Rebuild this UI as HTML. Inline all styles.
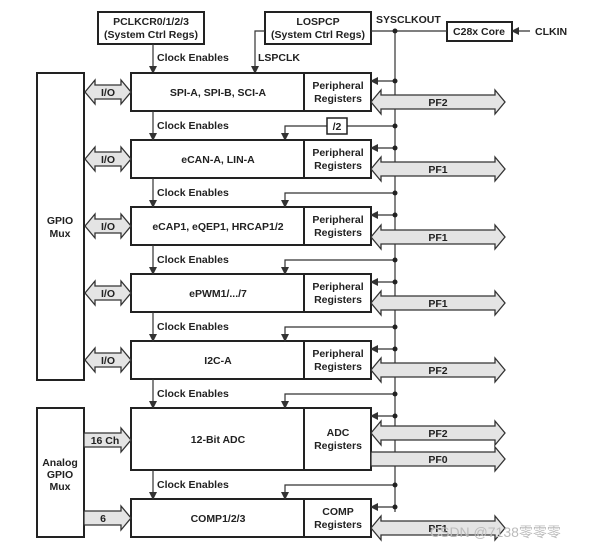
<!DOCTYPE html><html><head><style>body{margin:0;background:#fff}svg{display:block}text{font-family:"Liberation Sans",Arial,sans-serif;font-weight:bold;font-size:10.5px;fill:#222}</style></head><body>
<svg width="616" height="552" viewBox="0 0 616 552" xmlns="http://www.w3.org/2000/svg">
<defs><marker id="a" markerWidth="8" markerHeight="8" refX="7" refY="4" orient="auto" markerUnits="userSpaceOnUse"><path d="M0,0L8,4L0,8z" fill="#333"/></marker></defs>
<g stroke="#222" stroke-width="2" fill="#fff">
<rect x="98" y="12" width="106" height="32"/><rect x="265" y="12" width="106" height="32"/>
<rect x="447" y="22" width="65" height="19"/>
<rect x="37" y="73" width="47" height="307"/><rect x="37" y="408" width="47" height="129"/>
</g>
<text x="151" y="25" text-anchor="middle">PCLKCR0/1/2/3</text><text x="151" y="38" text-anchor="middle">(System Ctrl Regs)</text>
<text x="318" y="25" text-anchor="middle">LOSPCP</text><text x="318" y="38" text-anchor="middle">(System Ctrl Regs)</text>
<text x="376" y="23">SYSCLKOUT</text><text x="479" y="35" text-anchor="middle">C28x Core</text><text x="535" y="35">CLKIN</text>
<text x="60" y="224" text-anchor="middle">GPIO</text><text x="60" y="237" text-anchor="middle">Mux</text>
<text x="60" y="466" text-anchor="middle">Analog</text><text x="60" y="478" text-anchor="middle">GPIO</text><text x="60" y="490" text-anchor="middle">Mux</text>
<g stroke="#333" stroke-width="1.2" fill="none">
<line x1="371" y1="31" x2="447" y2="31"/><line x1="530" y1="31" x2="512" y2="31" marker-end="url(#a)"/>
<line x1="395" y1="31" x2="395" y2="512"/>
<line x1="153" y1="44" x2="153" y2="73" marker-end="url(#a)"/>
<polyline points="265,31 255,31 255,73" marker-end="url(#a)"/>
<polyline points="327,126 285,126 285,140" marker-end="url(#a)"/><line x1="347" y1="126" x2="395" y2="126"/>
</g>
<text x="157" y="61">Clock Enables</text><text x="258" y="61">LSPCLK</text>
<rect x="327" y="118" width="20" height="16" fill="#fff" stroke="#222" stroke-width="1.5"/><text x="337" y="130" text-anchor="middle">/2</text>
<g id="rows"></g>
<circle cx="395" cy="31" r="2.5" fill="#222"/><circle cx="395" cy="126" r="2.5" fill="#222"/>
<script>
var ns="http://www.w3.org/2000/svg",g=document.getElementById('rows');
function el(t,at,tx){var e=document.createElementNS(ns,t);for(var k in at)e.setAttribute(k,at[k]);if(tx)e.textContent=tx;g.appendChild(e);return e}
function dbl(x1,x2,cy,left){var h=12,b=7,w=10;var p=left?`M${x1},${cy} L${x1+w},${cy-h} L${x1+w},${cy-b} `:`M${x1},${cy-b} `;p+=`L${x2-w},${cy-b} L${x2-w},${cy-h} L${x2},${cy} L${x2-w},${cy+h} L${x2-w},${cy+b} `;p+=left?`L${x1+w},${cy+b} L${x1+w},${cy+h} Z`:`L${x1},${cy+b} Z`;el('path',{d:p,fill:'#e4e4e4',stroke:'#333','stroke-width':1.3})}
var rows=[[73,38,'SPI-A, SPI-B, SCI-A',['Peripheral','Registers'],[['PF2',102,1]],'I/O'],[140,38,'eCAN-A, LIN-A',['Peripheral','Registers'],[['PF1',169,1]],'I/O'],[207,38,'eCAP1, eQEP1, HRCAP1/2',['Peripheral','Registers'],[['PF1',237,1]],'I/O'],[274,38,'ePWM1/.../7',['Peripheral','Registers'],[['PF1',303,1]],'I/O'],[341,38,'I2C-A',['Peripheral','Registers'],[['PF2',370,1]],'I/O'],[408,62,'12-Bit ADC',['ADC','Registers'],[['PF2',433,1],['PF0',459,0]],'16 Ch'],[499,38,'COMP1/2/3',['COMP','Registers'],[['PF1',528,1]],'6']];
rows.forEach(function(r,i){var y=r[0],h=r[1],cy=y+h/2;
el('rect',{x:131,y:y,width:240,height:h,fill:'#fff',stroke:'#222','stroke-width':2});el('line',{x1:304,y1:y,x2:304,y2:y+h,stroke:'#222','stroke-width':2});
el('text',{x:218,y:cy+4,'text-anchor':'middle'},r[2]);
el('text',{x:338,y:y+16+(h-38)/2,'text-anchor':'middle'},r[3][0]);el('text',{x:338,y:y+29+(h-38)/2,'text-anchor':'middle'},r[3][1]);
el('line',{x1:395,y1:y+8,x2:371,y2:y+8,stroke:'#333','stroke-width':1.2,'marker-end':'url(#a)'});el('circle',{cx:395,cy:y+8,r:2.5,fill:'#222'});
r[4].forEach(function(p){dbl(371,505,p[1],p[2]);el('text',{x:438,y:p[1]+4,'text-anchor':'middle'},p[0])});
if(i<5){dbl(85,131,cy,1);el('text',{x:108,y:cy+4,'text-anchor':'middle'},r[5])}else{var ay=i==5?440:518;dbl(84,131,ay,0);el('text',{x:105-(i==5?0:2),y:ay+4,'text-anchor':'middle'},r[5])}
if(i>0){el('line',{x1:153,y1:y-29,x2:153,y2:y,stroke:'#333','stroke-width':1.2,'marker-end':'url(#a)'});el('text',{x:157,y:y-11},'Clock Enables');
if(i>1){el('polyline',{points:`395,${y-14} 285,${y-14} 285,${y}`,fill:'none',stroke:'#333','stroke-width':1.2,'marker-end':'url(#a)'});el('circle',{cx:395,cy:y-14,r:2.5,fill:'#222'})}}
});
</script>
<text x="430" y="537" style="font-weight:normal;font-size:14px;fill:#bbb">CSDN @7138零零零</text>
</svg></body></html>
